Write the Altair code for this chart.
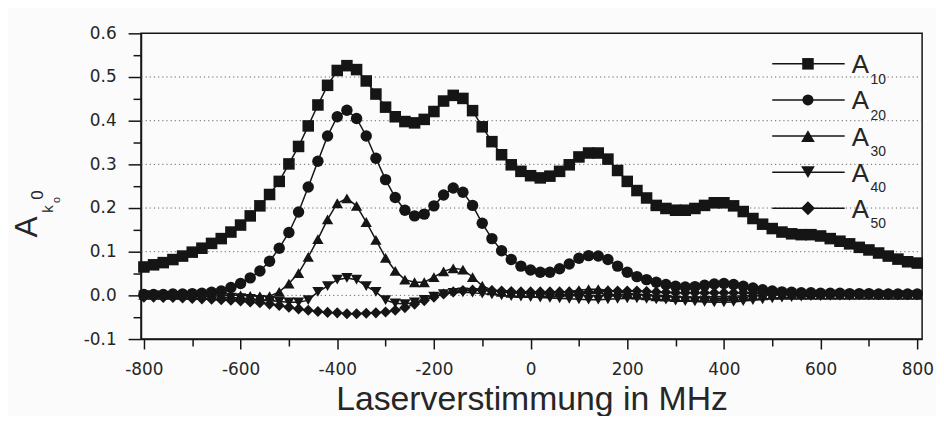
import altair as alt
import pandas as pd

# ---------------- data ----------------
freq = list(range(-800, 801, 20))  # MHz

A10 = [0.065, 0.070, 0.075, 0.082, 0.090, 0.099, 0.108, 0.119, 0.130, 0.145,
       0.161, 0.182, 0.205, 0.231, 0.261, 0.301, 0.341, 0.388, 0.436, 0.481,
       0.515, 0.526, 0.517, 0.491, 0.461, 0.431, 0.409, 0.398, 0.395, 0.403,
       0.421, 0.445, 0.458, 0.451, 0.423, 0.386, 0.352, 0.322, 0.299, 0.284,
       0.274, 0.269, 0.273, 0.284, 0.299, 0.317, 0.326, 0.326, 0.312, 0.286,
       0.261, 0.240, 0.223, 0.206, 0.199, 0.195, 0.195, 0.199, 0.206, 0.212,
       0.212, 0.205, 0.192, 0.176, 0.163, 0.153, 0.145, 0.141, 0.139, 0.139,
       0.136, 0.130, 0.124, 0.118, 0.110, 0.104, 0.097, 0.090, 0.083, 0.077,
       0.074]

A20 = [0.002, 0.002, 0.002, 0.003, 0.003, 0.004, 0.005, 0.007, 0.010, 0.018,
       0.027, 0.040, 0.056, 0.078, 0.108, 0.144, 0.191, 0.248, 0.307, 0.365,
       0.409, 0.424, 0.405, 0.365, 0.314, 0.265, 0.224, 0.195, 0.182, 0.186,
       0.205, 0.230, 0.246, 0.236, 0.206, 0.165, 0.130, 0.102, 0.082, 0.067,
       0.058, 0.053, 0.053, 0.061, 0.072, 0.085, 0.091, 0.090, 0.082, 0.067,
       0.053, 0.043, 0.036, 0.030, 0.025, 0.021, 0.019, 0.020, 0.023, 0.026,
       0.027, 0.025, 0.021, 0.017, 0.013, 0.010, 0.008, 0.007, 0.006, 0.006,
       0.005, 0.005, 0.005, 0.004, 0.004, 0.004, 0.003, 0.003, 0.003, 0.003,
       0.003]

A30 = [0.001, 0.001, 0.001, 0.001, 0.001, 0.001, 0.001, 0.001, 0.000, 0.000,
       0.000, -0.001, -0.002, -0.002, 0.008, 0.027, 0.051, 0.088, 0.129, 0.174,
       0.211, 0.222, 0.205, 0.168, 0.127, 0.086, 0.056, 0.036, 0.030, 0.030,
       0.042, 0.055, 0.062, 0.059, 0.042, 0.022, 0.012, 0.008, 0.006, 0.005,
       0.005, 0.005, 0.006, 0.007, 0.009, 0.012, 0.014, 0.014, 0.012, 0.008,
       0.005, 0.002, 0.000, -0.002, -0.003, -0.004, -0.004, -0.004, -0.003, -0.003,
       -0.002, -0.002, -0.001, 0.000, 0.000, 0.001, 0.001, 0.001, 0.001, 0.001,
       0.001, 0.001, 0.001, 0.001, 0.001, 0.001, 0.001, 0.001, 0.001, 0.001,
       0.001]

A40 = [0.000, 0.000, -0.001, -0.001, -0.002, -0.002, -0.003, -0.003, -0.004, -0.005,
       -0.006, -0.008, -0.010, -0.012, -0.014, -0.016, -0.016, -0.011, 0.008, 0.021,
       0.036, 0.040, 0.036, 0.021, 0.008, -0.011, -0.018, -0.020, -0.016, -0.010,
       -0.003, 0.003, 0.006, 0.007, 0.006, 0.004, 0.002, 0.000, -0.002, -0.003,
       -0.004, -0.005, -0.006, -0.007, -0.008, -0.009, -0.010, -0.010, -0.009, -0.008,
       -0.007, -0.007, -0.008, -0.009, -0.010, -0.012, -0.013, -0.014, -0.015, -0.016,
       -0.016, -0.015, -0.013, -0.011, -0.009, -0.007, -0.005, -0.004, -0.003, -0.002,
       -0.002, -0.001, -0.001, -0.001, 0.000, 0.000, 0.000, 0.000, 0.000, 0.000,
       0.000]

A50 = [-0.004, -0.004, -0.005, -0.005, -0.006, -0.007, -0.008, -0.009, -0.010, -0.011,
       -0.013, -0.015, -0.017, -0.020, -0.023, -0.027, -0.031, -0.034, -0.037, -0.039,
       -0.040, -0.042, -0.042, -0.041, -0.040, -0.038, -0.034, -0.028, -0.020, -0.012,
       -0.004, 0.003, 0.008, 0.011, 0.012, 0.012, 0.011, 0.010, 0.009, 0.008,
       0.008, 0.008, 0.008, 0.008, 0.008, 0.008, 0.008, 0.009, 0.010, 0.010,
       0.010, 0.010, 0.009, 0.008, 0.007, 0.006, 0.006, 0.006, 0.006, 0.006,
       0.006, 0.006, 0.006, 0.005, 0.005, 0.005, 0.005, 0.004, 0.004, 0.004,
       0.004, 0.004, 0.004, 0.003, 0.003, 0.003, 0.003, 0.003, 0.002, 0.002,
       0.002]

series_names = ["A10", "A20", "A30", "A40", "A50"]
series_subs = ["10", "20", "30", "40", "50"]
series_values = [A10, A20, A30, A40, A50]
shapes = ["square", "circle", "triangle-up", "triangle-down", "diamond"]
sizes = [135, 125, 190, 190, 200]

x_ticks = list(range(-800, 801, 100))
y_ticks = [round(-0.1 + 0.05 * i, 2) for i in range(15)]
grid_vals = [0.0, 0.1, 0.2, 0.3, 0.4, 0.5]

x_title = "Laserverstimmung in MHz"

# ---------------- build tables ----------------
rows = []
for name, vals in zip(series_names, series_values):
    for f, v in zip(freq, vals):
        rows.append({"f": f, "v": v, "series": name})
df = pd.DataFrame(rows)
grid_df = pd.DataFrame({"v": grid_vals})

INK = "#151515"
TXT = "#262626"
FONT = "Liberation Sans"
TICKFONT = "DejaVu Sans"

major_y = "abs(datum.value*10 - round(datum.value*10)) < 0.001"

x_scale = alt.Scale(domain=[-806, 810], nice=False, zero=False)
y_scale = alt.Scale(domain=[-0.1, 0.6], nice=False, zero=False)

x_axis = alt.Axis(
    values=x_ticks,
    labelExpr="datum.value % 200 === 0 ? '' + datum.value : ''",
    tickSize={"condition": {"test": "datum.value % 200 === 0", "value": 10}, "value": 7},
    tickWidth=1.5,
    tickColor=INK,
    domainColor=INK,
    domainWidth=1.5,
    labelFontSize=17,
    labelColor=TXT,
    labelFont=TICKFONT,
    labelPadding=13,
    labelFlush=False,
    grid=False,
    title=x_title,
    titleFontSize=34,
    titleFont=FONT,
    titleFontWeight="normal",
    titleColor=TXT,
    titlePadding=5,
)

y_axis = alt.Axis(
    values=y_ticks,
    labelExpr=f"({major_y}) ? (datum.value < 0 ? '-' + format(-datum.value, '.1f') : format(datum.value, '.1f')) : ''",
    tickSize={"condition": {"test": major_y, "value": 13}, "value": 8},
    tickWidth=1.5,
    tickColor=INK,
    domainColor=INK,
    domainWidth=1.5,
    labelFontSize=17,
    labelColor=TXT,
    labelFont=TICKFONT,
    labelPadding=12,
    labelFlush=False,
    grid=False,
    title=None,
)

grid = alt.Chart(grid_df).mark_rule(color="#666666", strokeWidth=1, strokeDash=[1.2, 3]).encode(
    y=alt.Y("v:Q", scale=y_scale, axis=y_axis)
)

lines = alt.Chart(df).mark_line(color=INK, strokeWidth=1.5).encode(
    x=alt.X("f:Q", scale=x_scale, axis=x_axis),
    y=alt.Y("v:Q", scale=y_scale, axis=y_axis),
    detail="series:N",
)

points = alt.Chart(df).mark_point(filled=True, color=INK, opacity=1).encode(
    x=alt.X("f:Q", scale=x_scale, axis=x_axis),
    y=alt.Y("v:Q", scale=y_scale, axis=y_axis),
    shape=alt.Shape("series:N", scale=alt.Scale(domain=series_names, range=shapes), legend=None),
    size=alt.Size("series:N", scale=alt.Scale(domain=series_names, range=sizes), legend=None),
)

one = pd.DataFrame({"k": [0]})
layers = [grid, lines, points]

# ---------------- custom legend (subscripted labels) ----------------
for i, (sub, shp, sz) in enumerate(zip(series_subs, shapes, sizes)):
    yy = 30.7 + i * 36.4
    layers.append(alt.Chart(one).mark_rule(color=INK, strokeWidth=1.6).encode(
        x=alt.value(636), x2=alt.value(709), y=alt.value(yy)))
    layers.append(alt.Chart(one).mark_point(shape=shp, filled=True, size=sz, color=INK, opacity=1).encode(
        x=alt.value(672), y=alt.value(yy)))
    layers.append(alt.Chart(one).mark_text(text="A", fontSize=26, font=FONT, color=TXT, align="left", baseline="alphabetic").encode(
        x=alt.value(716), y=alt.value(yy + 9.5)))
    layers.append(alt.Chart(one).mark_text(text=sub, fontSize=14, font=FONT, color=TXT, align="left", baseline="alphabetic").encode(
        x=alt.value(735), y=alt.value(yy + 20)))

# ---------------- y-axis title  A_{k_o 0} ----------------
ytitle_parts = [("A", 32, -115, 195), ("k", 15, -94, 177), ("o", 11, -85, 168), ("0", 17, -104, 163)]
for txt, fs, px, py in ytitle_parts:
    layers.append(alt.Chart(one).mark_text(text=txt, fontSize=fs, font=FONT, color=TXT, angle=270,
                                           align="center", baseline="middle").encode(
        x=alt.value(px), y=alt.value(py)))

chart = alt.layer(*layers).properties(
    width=787,
    height=308,
    autosize=alt.AutoSizeParams(type="none"),
    padding={"left": 134, "top": 24, "right": 14, "bottom": 76},
    background="#fbfbfb",
).configure_view(stroke=INK, strokeWidth=1.5)

chart.save("out.html", embed_options={"renderer": "svg", "actions": False})
